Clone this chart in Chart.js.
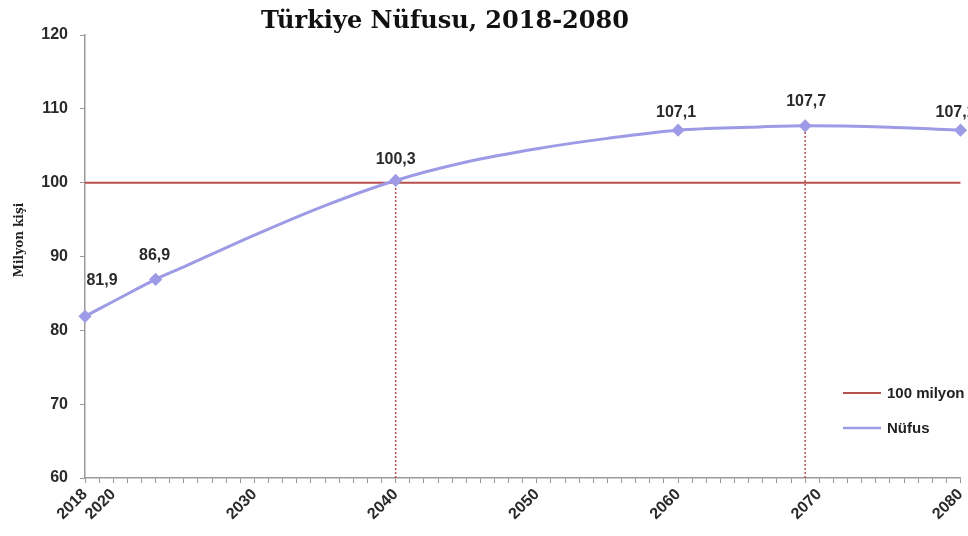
<!DOCTYPE html>
<html>
<head>
<meta charset="utf-8">
<script src="https://cdn.jsdelivr.net/npm/chart.js@4/dist/chart.umd.min.js"></script>
<style>
html,body{margin:0;padding:0;background:#fff;}
#wrap{width:968px;height:536px;position:relative;}
</style>
</head>
<body>
<div id="wrap"><canvas id="c" width="968" height="536"></canvas></div>
<script>
// ---- data ----
const titleText = 'Türkiye Nüfusu, 2018-2080';
const yAxisTitle = 'Milyon kişi';
const years = [2018, 2020, 2023, 2025, 2030, 2035, 2040, 2045, 2050, 2055, 2060, 2065, 2069, 2075, 2080];
const population = [81.9, 83.9, 86.9, 88.6, 92.9, 96.9, 100.3, 102.8, 104.6, 106.0, 107.1, 107.5, 107.7, 107.5, 107.1];
const markerYears = [2018, 2023, 2040, 2060, 2069, 2080];
const thresholdValue = 100;
const dropLineYears = [2040, 2069];
const xTickLabels = [2018, 2020, 2030, 2040, 2050, 2060, 2070, 2080];
const legendLabels = ['100 milyon', 'Nüfus'];

const RED = '#b8514e';
const LAV = '#9d9ae6';
const yMin = 60, yMax = 120;

const popPoints = years.map((y, i) => ({x: y, y: population[i]}));
const threshold = [{x: years[0], y: thresholdValue}, {x: years[years.length - 1], y: thresholdValue}];
const dropSets = dropLineYears.map(yr => {
  const v = population[years.indexOf(yr)];
  return {
    data: [{x: yr, y: yMin}, {x: yr, y: v}],
    borderColor: RED, borderWidth: 1.5, borderDash: [2, 2], pointRadius: 0, clip: false, order: 3
  };
});

const fmt = v => v.toFixed(1).replace('.', ',');
const labelOffsets = {2018: [17, -36], 2023: [-1, -24], 2040: [0, -21], 2060: [-2, -18], 2069: [1, -24], 2080: [-5, -18]};

const overlay = {
  id: 'overlay',
  afterDatasetsDraw(chart) {
    const ctx = chart.ctx;
    const xs = chart.scales.x, ys = chart.scales.y;
    ctx.save();
    ctx.font = 'bold 16px "Liberation Sans", Arial, sans-serif';
    ctx.fillStyle = '#2a2a2a';
    ctx.textAlign = 'center';
    ctx.textBaseline = 'middle';
    markerYears.forEach(yr => {
      const v = population[years.indexOf(yr)];
      const off = labelOffsets[yr] || [0, -20];
      ctx.fillText(fmt(v), xs.getPixelForValue(yr) + off[0], ys.getPixelForValue(v) + off[1]);
    });
    ctx.font = 'bold 24px "DejaVu Serif", serif';
    ctx.fillStyle = '#111';
    ctx.fillText(titleText, 445, 22);
    ctx.save();
    ctx.translate(20, 240);
    ctx.rotate(-Math.PI / 2);
    ctx.font = 'bold 12px "DejaVu Serif", serif';
    ctx.fillStyle = '#222';
    ctx.fillText(yAxisTitle, 0, 0);
    ctx.restore();
    const colors = [RED, LAV];
    ctx.font = 'bold 15px "Liberation Sans", Arial, sans-serif';
    ctx.textAlign = 'left';
    legendLabels.forEach((t, i) => {
      const yy = 393 + i * 35;
      ctx.strokeStyle = colors[i];
      ctx.lineWidth = i === 0 ? 2 : 2.5;
      ctx.beginPath(); ctx.moveTo(843, yy); ctx.lineTo(881, yy); ctx.stroke();
      ctx.fillStyle = '#222';
      ctx.fillText(t, 887, yy + 1);
    });
    ctx.restore();
  }
};

new Chart(document.getElementById('c'), {
  type: 'line',
  data: {
    datasets: [
      {
        label: legendLabels[1], data: popPoints, borderColor: LAV, backgroundColor: LAV,
        borderWidth: 3, cubicInterpolationMode: 'monotone', clip: false, order: 1,
        pointStyle: 'rectRot',
        pointRadius: c => markerYears.includes(c.raw && c.raw.x) ? 4.5 : 0,
        pointHoverRadius: 0
      },
      {
        label: legendLabels[0], data: threshold, borderColor: RED, borderWidth: 2,
        pointRadius: 0, clip: false, order: 2
      },
      ...dropSets
    ]
  },
  options: {
    responsive: false,
    animation: false,
    events: [],
    layout: {padding: {top: 35, right: 6, left: 0, bottom: 0}},
    plugins: {legend: {display: false}, tooltip: {enabled: false}, title: {display: false}},
    scales: {
      x: {
        type: 'linear', min: 2018, max: 2080,
        afterBuildTicks: s => { const t = []; for (let y = 2018; y <= 2080; y++) t.push({value: y}); s.ticks = t; },
        afterFit: s => { s.height = 58; s.paddingRight = 0; s.paddingLeft = 0; },
        border: {color: '#9a9a9a', width: 1.5},
        grid: {drawOnChartArea: false, drawTicks: true, tickLength: 5, color: '#9a9a9a'},
        ticks: {
          autoSkip: false, maxRotation: 45, minRotation: 45, padding: 2,
          color: '#2a2a2a', font: {family: '"Liberation Sans", Arial, sans-serif', weight: 'bold', size: 16},
          callback: v => xTickLabels.includes(v) ? String(v) : ''
        }
      },
      y: {
        min: yMin, max: yMax,
        afterFit: s => { s.width = 85; s.paddingTop = 0; s.paddingBottom = 0; },
        border: {color: '#9a9a9a', width: 1.5},
        grid: {drawOnChartArea: false, drawTicks: true, tickLength: 5, color: '#9a9a9a'},
        ticks: {
          stepSize: 10, padding: 12, color: '#2a2a2a',
          font: {family: '"Liberation Sans", Arial, sans-serif', weight: 'bold', size: 16}
        }
      }
    }
  },
  plugins: [overlay]
});
</script>
</body>
</html>
